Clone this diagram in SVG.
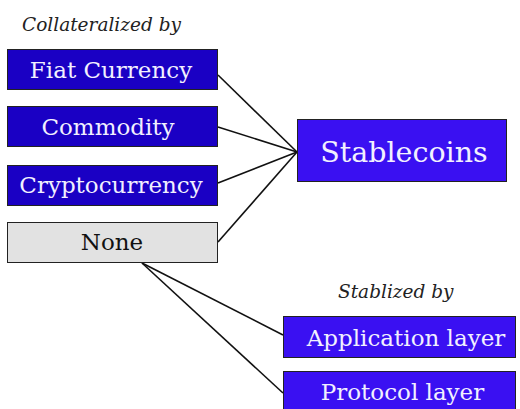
<svg xmlns="http://www.w3.org/2000/svg" width="520" height="409" viewBox="0 0 520 409">
<style>
.dk{fill:#1a00c4;stroke:#222;stroke-width:1}
.br{fill:#3a10f2;stroke:#222;stroke-width:1}
.gr{fill:#e2e2e2;stroke:#222;stroke-width:1}
.t{font-family:"DejaVu Serif","Liberation Serif",serif;fill:#f2f0ff;text-anchor:middle;font-size:23px}
.tb{font-family:"DejaVu Serif","Liberation Serif",serif;fill:#111;text-anchor:middle;font-size:23px}
.big{font-size:28.5px}
.it{font-family:"DejaVu Serif","Liberation Serif",serif;font-style:italic;fill:#222;font-size:18.5px}
.c{stroke:#111;stroke-width:1.6;fill:none}
</style>
<rect width="520" height="409" fill="#fff"/>
<text class="it" x="22" y="31">Collateralized by</text>
<text class="it" x="338" y="298">Stablized by</text>
<g id="connectors">
<line class="c" x1="218" y1="75" x2="297" y2="152"/>
<line class="c" x1="218" y1="127" x2="297" y2="152"/>
<line class="c" x1="218" y1="183" x2="297" y2="152"/>
<line class="c" x1="218" y1="242" x2="297" y2="152"/>
<line class="c" x1="142" y1="263" x2="283" y2="335"/>
<line class="c" x1="142" y1="263" x2="283" y2="393"/>
</g>
<g id="fiat"><rect class="dk" x="7.5" y="49.5" width="210" height="40"/><text class="t" x="111" y="78">Fiat Currency</text></g>
<g id="commodity"><rect class="dk" x="7.5" y="106.5" width="210" height="40"/><text class="t" x="108" y="135">Commodity</text></g>
<g id="crypto"><rect class="dk" x="7.5" y="165.5" width="210" height="40"/><text class="t" x="111" y="193">Cryptocurrency</text></g>
<g id="none"><rect class="gr" x="7.5" y="222.5" width="210" height="40"/><text class="tb" x="112" y="250">None</text></g>
<g id="stablecoins"><rect class="br" x="297.5" y="119.5" width="209" height="62"/><text class="t big" x="404" y="162">Stablecoins</text></g>
<g id="application"><rect class="br" x="283.5" y="316.5" width="232" height="41"/><text class="t" x="406" y="346">Application layer</text></g>
<g id="protocol"><rect class="br" x="283.5" y="371.5" width="232" height="40"/><text class="t" x="402.5" y="400">Protocol layer</text></g>
</svg>
